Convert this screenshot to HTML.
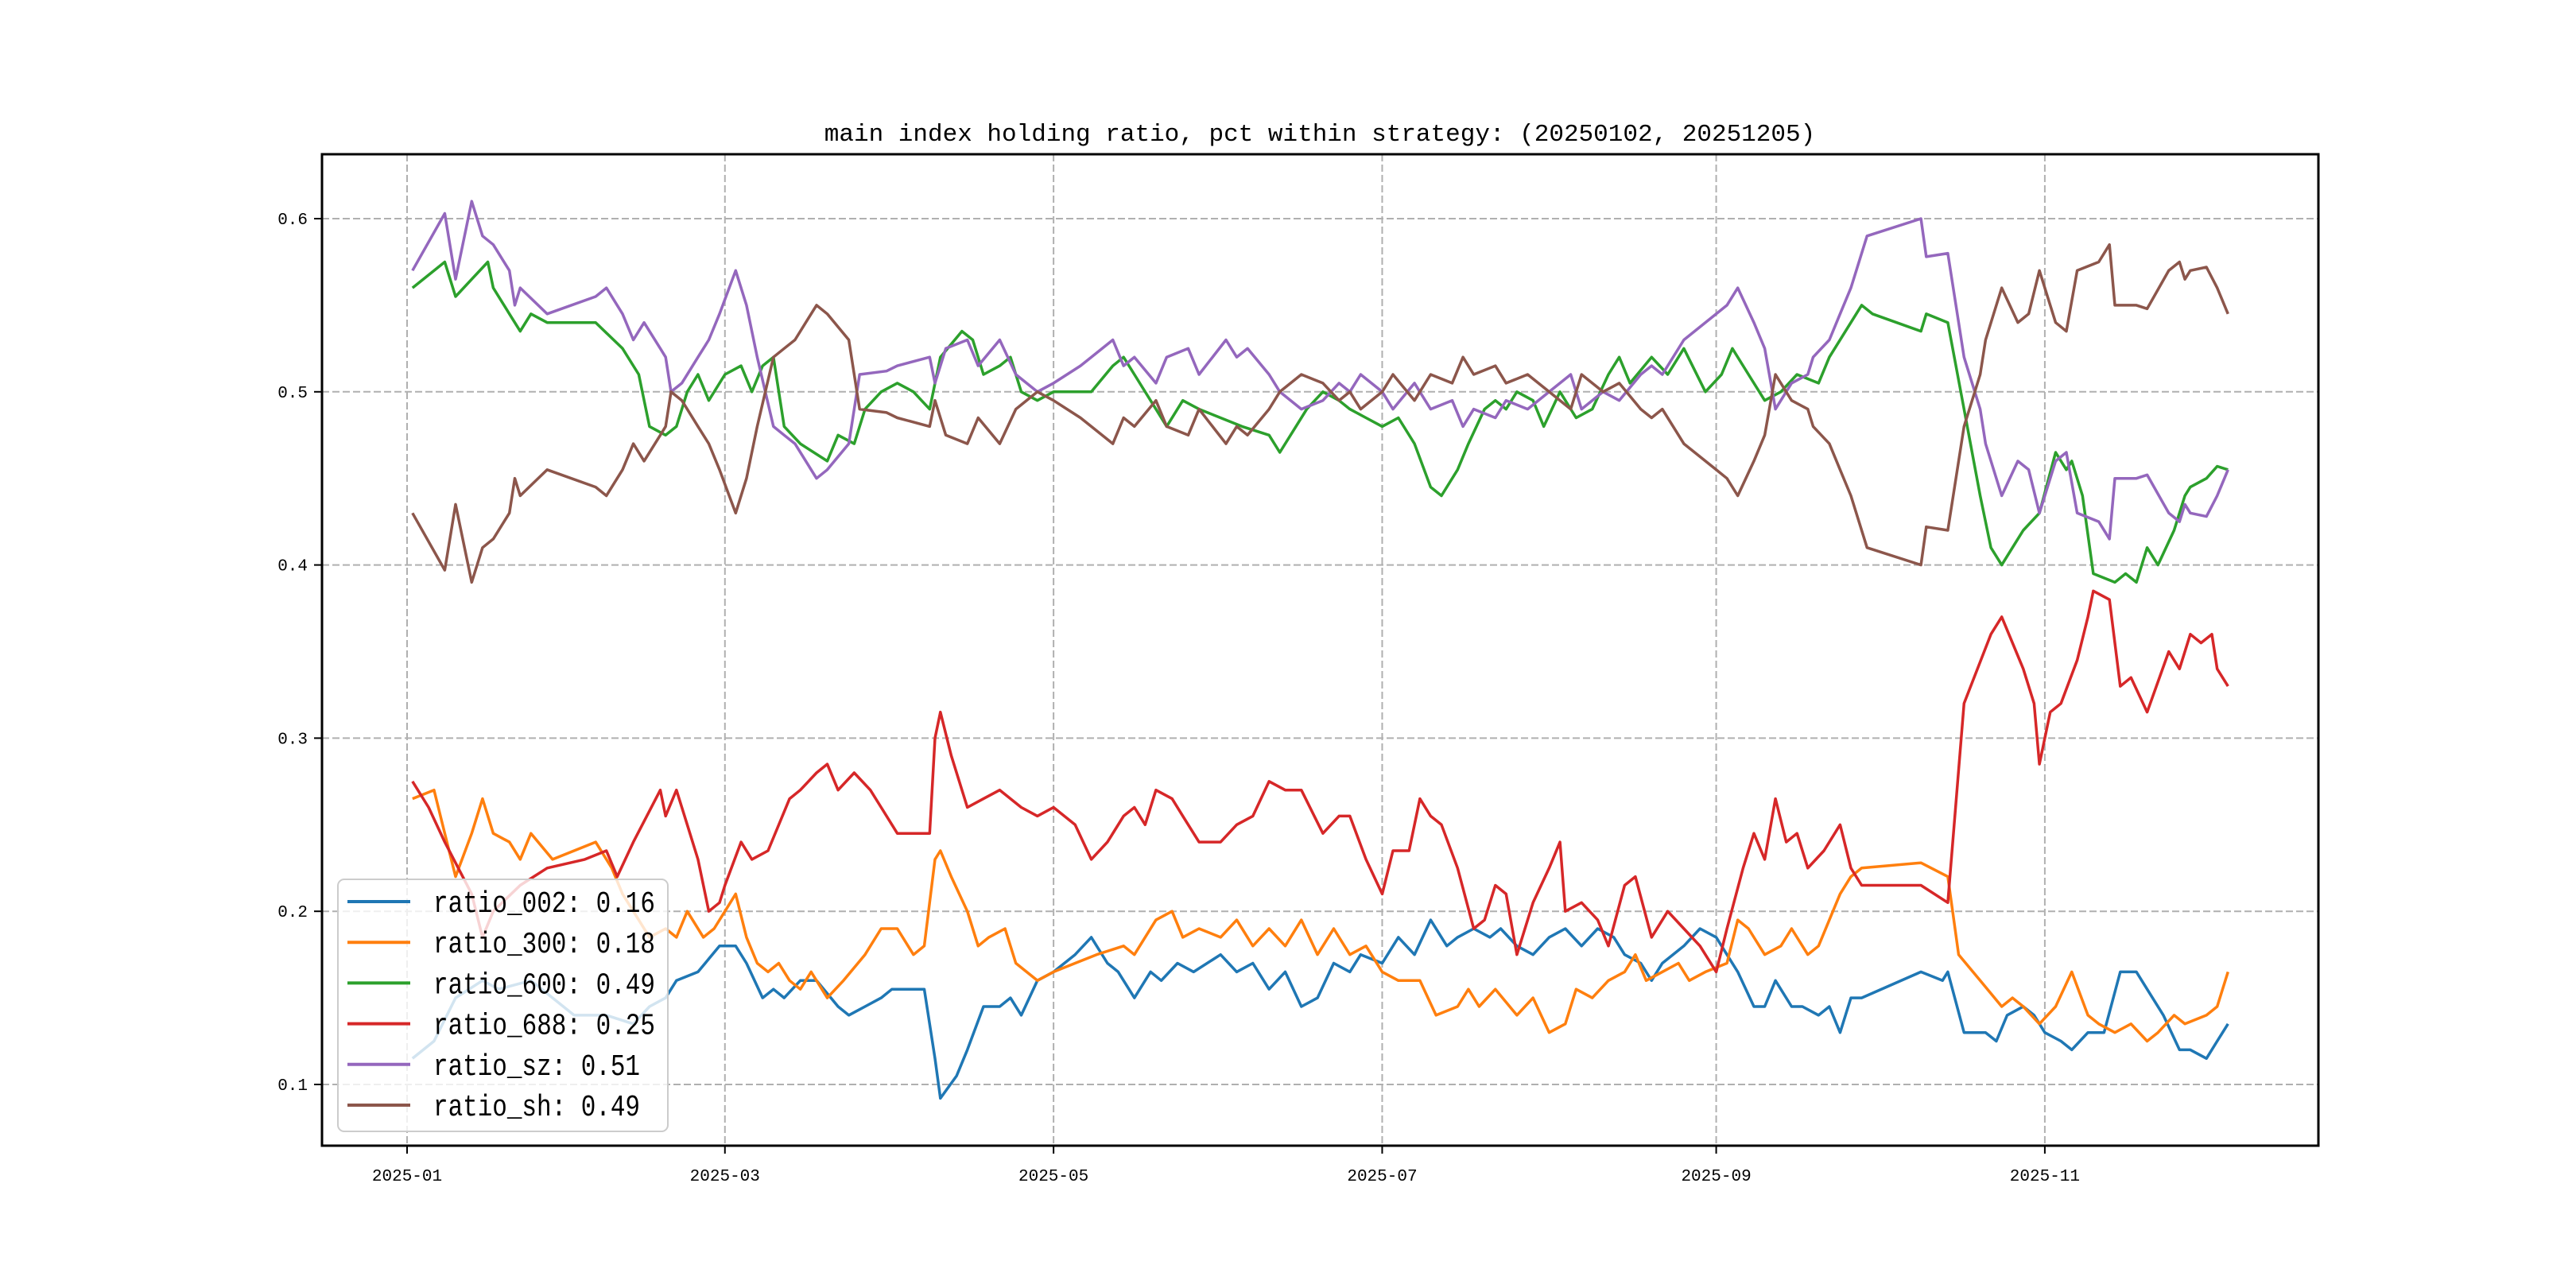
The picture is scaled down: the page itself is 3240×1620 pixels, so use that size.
<!DOCTYPE html>
<html><head><meta charset="utf-8"><style>
html,body{margin:0;padding:0;background:#fff;}
svg{display:block;}
text{font-family:"Liberation Mono","Noto Sans CJK SC",monospace;fill:#000;}
</style></head><body>
<svg id="chart" width="3240" height="1620" viewBox="0 0 3240 1620" xmlns="http://www.w3.org/2000/svg">
<rect x="0" y="0" width="3240" height="1620" fill="#fff"/>
<text x="1660" y="177" font-size="31" text-anchor="middle">main index holding ratio, pct within strategy: (20250102, 20251205)</text>
<g id="grid"></g>
<g id="series"></g>
<rect x="405" y="194" width="2511" height="1247" fill="none" stroke="#000" stroke-width="3"/>
<g id="ticks"></g>
<g id="legend"></g>
</svg>
<script>
const xTickLabels = ["2025-01","2025-03","2025-05","2025-07","2025-09","2025-11"];
const yTickValues = [0.1,0.2,0.3,0.4,0.5,0.6];
const yTickLabels = ["0.1","0.2","0.3","0.4","0.5","0.6"];
const seriesNames = ["ratio_002","ratio_300","ratio_600","ratio_688","ratio_sz","ratio_sh"];
const legendValues = ["0.16","0.18","0.49","0.25","0.51","0.49"];
const colors = ["#1f77b4","#ff7f0e","#2ca02c","#d62728","#9467bd","#8c564b"];

const szShDates = ["01-02","01-08","01-10","01-13","01-15","01-17","01-20","01-21","01-22","01-27",
"02-05","02-07","02-10","02-12","02-14","02-17","02-18","02-19","02-21","02-24",
"02-26","02-28","03-03","03-05","03-07","03-10","03-12","03-14","03-18","03-20",
"03-24","03-26","03-31","04-02","04-08","04-09","04-11","04-15","04-17","04-21",
"04-24","04-28","05-01","05-06","05-08","05-12","05-14","05-16","05-20","05-22",
"05-26","05-28","06-02","06-04","06-06","06-10","06-12","06-16","06-20","06-23",
"06-25","06-27","07-01","07-03","07-07","07-10","07-14","07-16","07-18","07-22",
"07-24","07-28","08-01","08-05","08-07","08-11","08-14","08-18","08-20","08-22",
"08-26","09-01","09-03","09-05","09-08","09-10","09-12","09-15","09-18","09-19",
"09-22","09-24","09-26","09-29","10-09","10-10","10-14","10-15","10-17","10-20",
"10-21","10-24","10-27","10-29","10-31","11-03","11-05","11-07","11-11","11-13",
"11-14","11-18","11-20","11-24","11-26","11-27","11-28","12-01","12-03","12-05"];
const szVals = [.57,.603,.565,.61,.59,.585,.57,.55,.56,.545,
.555,.56,.545,.53,.54,.525,.52,.50,.505,.52,
.53,.545,.57,.55,.52,.48,.475,.47,.45,.455,
.47,.51,.512,.515,.52,.505,.525,.53,.515,.53,
.51,.50,.505,.515,.52,.53,.515,.52,.505,.52,
.525,.51,.53,.52,.525,.51,.50,.49,.495,.505,
.50,.51,.50,.49,.505,.49,.495,.48,.49,.485,
.495,.49,.50,.51,.49,.50,.495,.51,.515,.51,
.53,.545,.55,.56,.54,.525,.49,.505,.51,.52,
.53,.545,.56,.59,.60,.578,.58,.56,.52,.49,
.47,.44,.46,.455,.43,.46,.465,.43,.425,.415,
.45,.45,.452,.43,.425,.435,.43,.428,.44,.455];
const shVals = [.43,.397,.435,.39,.41,.415,.43,.45,.44,.455,
.445,.44,.455,.47,.46,.475,.48,.50,.495,.48,
.47,.455,.43,.45,.48,.52,.525,.53,.55,.545,
.53,.49,.488,.485,.48,.495,.475,.47,.485,.47,
.49,.50,.495,.485,.48,.47,.485,.48,.495,.48,
.475,.49,.47,.48,.475,.49,.50,.51,.505,.495,
.50,.49,.50,.51,.495,.51,.505,.52,.51,.515,
.505,.51,.50,.49,.51,.50,.505,.49,.485,.49,
.47,.455,.45,.44,.46,.475,.51,.495,.49,.48,
.47,.455,.44,.41,.40,.422,.42,.44,.48,.51,
.53,.56,.54,.545,.57,.54,.535,.57,.575,.585,
.55,.55,.548,.57,.575,.565,.57,.572,.56,.545];

const r600 = [["01-02",.56],["01-08",.575],["01-10",.555],["01-13",.565],["01-16",.575],["01-17",.56],["01-20",.545],["01-22",.535],["01-24",.545],["01-27",.54],["02-05",.54],["02-10",.525],["02-13",.51],["02-15",.48],["02-18",.475],["02-20",.48],["02-22",.50],["02-24",.51],["02-26",.495],["03-01",.51],["03-04",.515],["03-06",.50],["03-08",.515],["03-10",.52],["03-12",.48],["03-15",.47],["03-20",.46],["03-22",.475],["03-25",.47],["03-27",.49],["03-30",.50],["04-02",.505],["04-05",.50],["04-08",.49],["04-10",.52],["04-14",.535],["04-16",.53],["04-18",.51],["04-21",.515],["04-23",.52],["04-25",.50],["04-28",.495],["05-01",.50],["05-08",.50],["05-12",.515],["05-14",.52],["05-16",.51],["05-20",.49],["05-22",.48],["05-25",.495],["05-28",.49],["06-01",.485],["06-05",.48],["06-10",.475],["06-12",.465],["06-15",.48],["06-17",.49],["06-20",.50],["06-23",.495],["06-25",.49],["06-28",.485],["07-01",.48],["07-04",.485],["07-07",.47],["07-10",.445],["07-12",.44],["07-15",.455],["07-17",.47],["07-20",.49],["07-22",.495],["07-24",.49],["07-26",.50],["07-29",.495],["07-31",.48],["08-03",.50],["08-06",.485],["08-09",.49],["08-12",.51],["08-14",.52],["08-16",.505],["08-20",.52],["08-23",.51],["08-26",.525],["08-30",.50],["09-02",.51],["09-04",.525],["09-07",.51],["09-10",.495],["09-13",.50],["09-16",.51],["09-20",.505],["09-22",.52],["09-25",.535],["09-28",.55],["09-30",.545],["10-09",.535],["10-10",.545],["10-14",.54],["10-17",.49],["10-20",.44],["10-22",.41],["10-24",.40],["10-26",.41],["10-28",.42],["10-31",.43],["11-03",.465],["11-05",.455],["11-06",.46],["11-08",.44],["11-10",.395],["11-14",.39],["11-16",.395],["11-18",.39],["11-20",.41],["11-22",.40],["11-25",.42],["11-27",.44],["11-28",.445],["12-01",.45],["12-03",.457],["12-05",.455]];

const r688 = [["01-02",.275],["01-05",.26],["01-08",.24],["01-13",.21],["01-15",.185],["01-17",.20],["01-22",.215],["01-27",.225],["02-03",.23],["02-07",.235],["02-09",.22],["02-12",.24],["02-17",.27],["02-18",.255],["02-20",.27],["02-22",.25],["02-24",.23],["02-26",.20],["02-28",.205],["03-01",.215],["03-04",.24],["03-06",.23],["03-09",.235],["03-13",.265],["03-15",.27],["03-18",.28],["03-20",.285],["03-22",.27],["03-25",.28],["03-28",.27],["03-30",.26],["04-02",.245],["04-08",.245],["04-09",.30],["04-10",.315],["04-12",.29],["04-15",.26],["04-18",.265],["04-21",.27],["04-25",.26],["04-28",.255],["05-01",.26],["05-05",.25],["05-08",.23],["05-11",.24],["05-14",.255],["05-16",.26],["05-18",.25],["05-20",.27],["05-23",.265],["05-25",.255],["05-28",.24],["06-01",.24],["06-04",.25],["06-07",.255],["06-10",.275],["06-13",.27],["06-16",.27],["06-20",.245],["06-23",.255],["06-25",.255],["06-28",.23],["07-01",.21],["07-03",.235],["07-06",.235],["07-08",.265],["07-10",.255],["07-12",.25],["07-15",.225],["07-18",.19],["07-20",.195],["07-22",.215],["07-24",.21],["07-26",.175],["07-29",.205],["08-01",.225],["08-03",.24],["08-04",.20],["08-07",.205],["08-10",.195],["08-12",.18],["08-15",.215],["08-17",.22],["08-20",.185],["08-23",.20],["08-26",.19],["08-29",.18],["09-01",.165],["09-03",.19],["09-06",.225],["09-08",.245],["09-10",.23],["09-12",.265],["09-14",.24],["09-16",.245],["09-18",.225],["09-21",.235],["09-24",.25],["09-26",.225],["09-28",.215],["10-09",.215],["10-14",.205],["10-17",.32],["10-22",.36],["10-24",.37],["10-28",.34],["10-30",.32],["10-31",.285],["11-02",.315],["11-04",.32],["11-07",.345],["11-09",.37],["11-10",.385],["11-13",.38],["11-15",.33],["11-17",.335],["11-20",.315],["11-24",.35],["11-26",.34],["11-28",.36],["11-30",.355],["12-02",.36],["12-03",.34],["12-05",.33]];

const r300 = [["01-02",.265],["01-06",.27],["01-08",.245],["01-10",.22],["01-13",.245],["01-15",.265],["01-17",.245],["01-20",.24],["01-22",.23],["01-24",.245],["01-28",.23],["02-05",.24],["02-08",.225],["02-10",.21],["02-13",.195],["02-15",.185],["02-18",.19],["02-20",.185],["02-22",.20],["02-25",.185],["02-27",.19],["03-01",.20],["03-03",.21],["03-05",.185],["03-07",.17],["03-09",.165],["03-11",.17],["03-13",.16],["03-15",.155],["03-17",.165],["03-20",.15],["03-23",.16],["03-27",.175],["03-30",.19],["04-02",.19],["04-05",.175],["04-07",.18],["04-09",.23],["04-10",.235],["04-12",.22],["04-15",.20],["04-17",.18],["04-19",.185],["04-22",.19],["04-24",.17],["04-28",.16],["05-01",.165],["05-05",.17],["05-09",.175],["05-14",.18],["05-16",.175],["05-20",.195],["05-23",.20],["05-25",.185],["05-28",.19],["06-01",.185],["06-04",.195],["06-07",.18],["06-10",.19],["06-13",.18],["06-16",.195],["06-19",.175],["06-22",.19],["06-25",.175],["06-28",.18],["07-01",.165],["07-04",.16],["07-08",.16],["07-11",.14],["07-15",.145],["07-17",.155],["07-19",.145],["07-22",.155],["07-26",.14],["07-29",.15],["08-01",.13],["08-04",.135],["08-06",.155],["08-09",.15],["08-12",.16],["08-15",.165],["08-17",.175],["08-19",.16],["08-22",.165],["08-25",.17],["08-27",.16],["08-30",.165],["09-03",.17],["09-05",.195],["09-07",.19],["09-10",.175],["09-13",.18],["09-15",.19],["09-18",.175],["09-20",.18],["09-24",.21],["09-26",.22],["09-28",.225],["10-09",.228],["10-14",.22],["10-16",.175],["10-20",.16],["10-24",.145],["10-26",.15],["10-28",.145],["10-31",.135],["11-03",.145],["11-06",.165],["11-09",.14],["11-11",.135],["11-14",.13],["11-17",.135],["11-20",.125],["11-22",.13],["11-25",.14],["11-27",.135],["12-01",.14],["12-03",.145],["12-05",.165]];

const r002 = [["01-02",.115],["01-06",.125],["01-10",.15],["01-15",.16],["01-18",.155],["01-24",.16],["02-01",.14],["02-07",.14],["02-12",.135],["02-15",.145],["02-18",.15],["02-20",.16],["02-24",.165],["02-28",.18],["03-03",.18],["03-05",.17],["03-08",.15],["03-10",.155],["03-12",.15],["03-15",.16],["03-18",.16],["03-22",.145],["03-24",.14],["03-27",.145],["03-30",.15],["04-01",.155],["04-07",.155],["04-09",.115],["04-10",.092],["04-13",.105],["04-15",.12],["04-18",.145],["04-21",.145],["04-23",.15],["04-25",.14],["04-28",.16],["05-01",.165],["05-05",.175],["05-08",.185],["05-11",.17],["05-13",.165],["05-16",.15],["05-19",.165],["05-21",.16],["05-24",.17],["05-27",.165],["06-01",.175],["06-04",.165],["06-07",.17],["06-10",.155],["06-13",.165],["06-16",.145],["06-19",.15],["06-22",.17],["06-25",.165],["06-27",.175],["07-01",.17],["07-04",.185],["07-07",.175],["07-10",.195],["07-13",.18],["07-15",.185],["07-18",.19],["07-21",.185],["07-23",.19],["07-26",.18],["07-29",.175],["08-01",.185],["08-04",.19],["08-07",.18],["08-10",.19],["08-13",.185],["08-15",.175],["08-18",.17],["08-20",.16],["08-22",.17],["08-26",.18],["08-29",.19],["09-01",.185],["09-03",.175],["09-05",.165],["09-08",.145],["09-10",.145],["09-12",.16],["09-15",.145],["09-17",.145],["09-20",.14],["09-22",.145],["09-24",.13],["09-26",.15],["09-28",.15],["10-09",.165],["10-13",.16],["10-14",.165],["10-17",.13],["10-21",.13],["10-23",.125],["10-25",.14],["10-28",.145],["10-30",.14],["11-01",.13],["11-04",.125],["11-06",.12],["11-09",.13],["11-12",.13],["11-15",.165],["11-18",.165],["11-20",.155],["11-23",.14],["11-26",.12],["11-28",.12],["12-01",.115],["12-03",.125],["12-05",.135]];

const NS = "http://www.w3.org/2000/svg";
const L = 405, R = 2916, T = 194, B = 1441;
function dayOf(s){ const p = s.split("-").map(Number); return (Date.UTC(2025,p[0]-1,p[1]) - Date.UTC(2025,0,1))/86400000; }
function xScale(day){ return 512 + day*6.776; }
function yScale(v){ return 275 + (0.6 - v)*2178; }
function mk(tag, attrs, parent){ const e = document.createElementNS(NS, tag); for (const k in attrs) e.setAttribute(k, attrs[k]); parent.appendChild(e); return e; }

const grid = document.getElementById("grid");
const ticks = document.getElementById("ticks");
xTickLabels.forEach(lbl => {
  const d = dayOf(lbl.slice(5) + "-01");
  const x = xScale(d);
  const g = mk("line", {x1:x, x2:x, y1:T, y2:B, stroke:"#b0b0b0", "stroke-width":2, "stroke-dasharray":"9,4"}, grid);
  
  
  const t = mk("line", {x1:x, x2:x, y1:B, y2:B+10, stroke:"#000", "stroke-width":2}, ticks);
  
  
  const tx = mk("text", {x:x, y:B+44, "font-size":21, "text-anchor":"middle"}, ticks);
  tx.textContent = lbl;
  
  
});
yTickValues.forEach((v, i) => {
  const y = yScale(v);
  const g = mk("line", {x1:L, x2:R, y1:y, y2:y, stroke:"#b0b0b0", "stroke-width":2, "stroke-dasharray":"9,4"}, grid);
  
  
  const t = mk("line", {x1:L-10, x2:L, y1:y, y2:y, stroke:"#000", "stroke-width":2}, ticks);
  
  
  const tx = mk("text", {x:L-18, y:y+7, "font-size":21, "text-anchor":"end"}, ticks);
  tx.textContent = yTickLabels[i];
  
  
});

const seriesG = document.getElementById("series");
function drawLine(pairs, color, name){
  const d = pairs.map((p, i) => (i ? "L" : "M") + xScale(dayOf(p[0])).toFixed(1) + "," + yScale(p[1]).toFixed(1)).join(" ");
  const path = mk("path", {d:d, fill:"none", stroke:color, "stroke-width":3.5, "stroke-linejoin":"round"}, seriesG);
  
  
}
drawLine(r002, colors[0], "ratio-002");
drawLine(r300, colors[1], "ratio-300");
drawLine(r600, colors[2], "ratio-600");
drawLine(r688, colors[3], "ratio-688");
drawLine(szShDates.map((d, i) => [d, szVals[i]]), colors[4], "ratio-sz");
drawLine(szShDates.map((d, i) => [d, shVals[i]]), colors[5], "ratio-sh");

const lg = document.getElementById("legend");
const box = mk("rect", {x:425, y:1106, width:415, height:317, rx:8, fill:"#fff", "fill-opacity":0.8, stroke:"#cccccc", "stroke-width":2}, lg);


seriesNames.forEach((n, i) => {
  const y = 1134 + i*51.2;
  const ln = mk("line", {x1:437, x2:516, y1:y, y2:y, stroke:colors[i], "stroke-width":4}, lg);
  
  
  const label = n + ": " + legendValues[i];
  const tx = mk("text", {x:545, y:y+13, "font-size":38, textLength:(label.length*18.6).toFixed(0), lengthAdjust:"spacingAndGlyphs"}, lg);
  tx.textContent = label;
  
  
});
</script>
</body></html>
